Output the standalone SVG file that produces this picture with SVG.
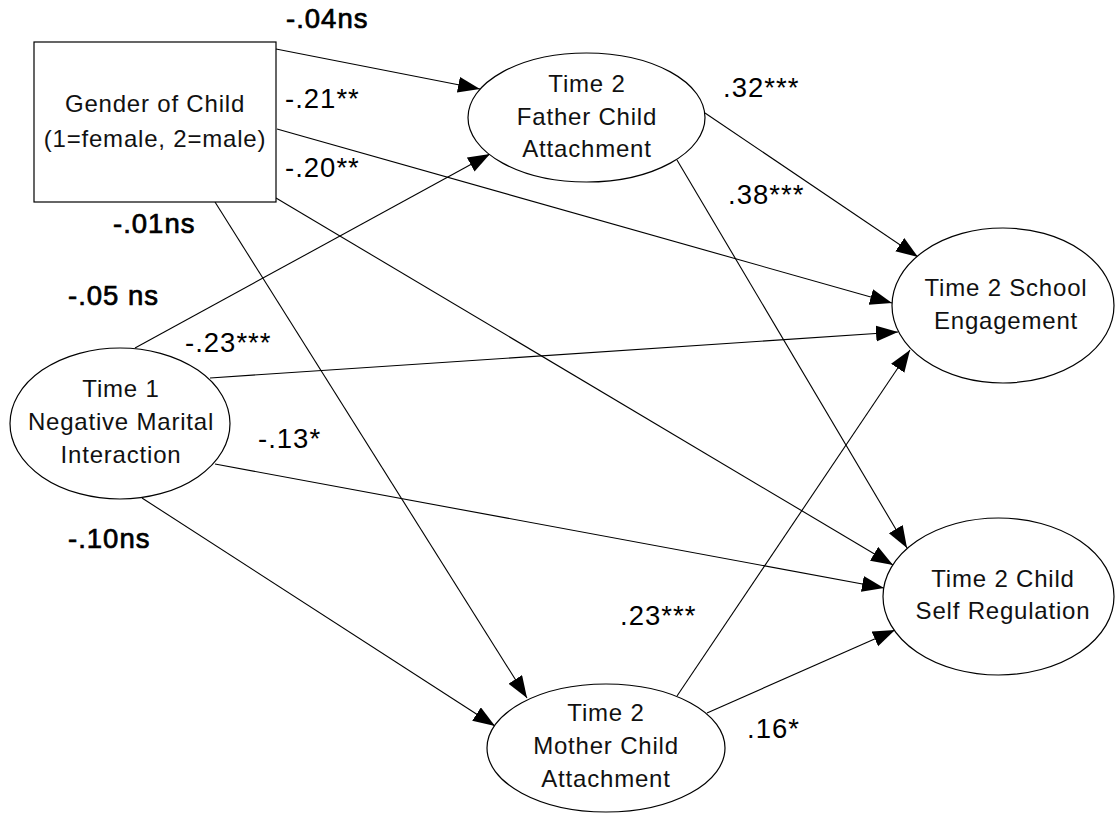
<svg xmlns="http://www.w3.org/2000/svg" width="1115" height="813" viewBox="0 0 1115 813">
  <defs>
    <marker id="arrow" markerUnits="userSpaceOnUse" markerWidth="24" markerHeight="18" refX="22" refY="8" orient="auto">
      <path d="M0,0 L22,8 L0,16 z" fill="#000"/>
    </marker>
    <style>
      .shape { fill: #fff; stroke: #000; stroke-width: 1.2; }
      .node-text { font-family: "Liberation Sans", Arial, sans-serif; font-size: 24px; letter-spacing: 0.8px; fill: #111; text-anchor: middle; }
      .edge { stroke: #000; stroke-width: 1.1; fill: none; marker-end: url(#arrow); }
      .coef { font-family: "Liberation Sans", Arial, sans-serif; font-size: 27.5px; letter-spacing: 1px; fill: #000; }
      .coef-ns { stroke: #000; stroke-width: 0.7px; }
    </style>
  </defs>
  <rect width="1115" height="813" fill="#fff"/>

  <!-- paths between variables -->
  <g id="connectors">
    <line class="edge" x1="276" y1="49" x2="480" y2="89"/>
    <line class="edge" x1="277" y1="129" x2="892" y2="303"/>
    <line class="edge" x1="276" y1="198" x2="893" y2="565"/>
    <line class="edge" x1="215" y1="202" x2="527" y2="698"/>
    <line class="edge" x1="135" y1="348" x2="490" y2="154"/>
    <line class="edge" x1="210" y1="378" x2="898" y2="332"/>
    <line class="edge" x1="215" y1="464" x2="884" y2="588"/>
    <line class="edge" x1="142" y1="498" x2="495" y2="726"/>
    <line class="edge" x1="705" y1="113" x2="918" y2="257"/>
    <line class="edge" x1="677" y1="160" x2="907" y2="548"/>
    <line class="edge" x1="677" y1="696" x2="910" y2="350"/>
    <line class="edge" x1="707" y1="713" x2="895" y2="630"/>
  </g>

  <g id="gender">
    <rect class="shape" x="34" y="42" width="242" height="160"/>
    <text class="node-text" x="155" y="112">Gender of Child</text>
    <text class="node-text" x="155" y="147">(1=female, 2=male)</text>
  </g>

  <g id="father">
    <ellipse class="shape" cx="586.5" cy="117.5" rx="118.5" ry="64.5"/>
    <text class="node-text" x="587" y="92">Time 2</text>
    <text class="node-text" x="587" y="125">Father Child</text>
    <text class="node-text" x="587" y="157">Attachment</text>
  </g>

  <g id="marital">
    <ellipse class="shape" cx="120" cy="423.5" rx="110" ry="75.5"/>
    <text class="node-text" x="121" y="397">Time 1</text>
    <text class="node-text" x="121" y="430">Negative Marital</text>
    <text class="node-text" x="121" y="463">Interaction</text>
  </g>

  <g id="mother">
    <ellipse class="shape" cx="606" cy="748" rx="119" ry="64"/>
    <text class="node-text" x="606" y="721">Time 2</text>
    <text class="node-text" x="606" y="754">Mother Child</text>
    <text class="node-text" x="606" y="787">Attachment</text>
  </g>

  <g id="school">
    <ellipse class="shape" cx="1003" cy="305.5" rx="111" ry="77.5"/>
    <text class="node-text" x="1006" y="296">Time 2 School</text>
    <text class="node-text" x="1006" y="329">Engagement</text>
  </g>

  <g id="selfreg">
    <ellipse class="shape" cx="998.5" cy="596.5" rx="115.5" ry="78.5"/>
    <text class="node-text" x="1003" y="587">Time 2 Child</text>
    <text class="node-text" x="1003" y="619">Self Regulation</text>
  </g>

  <!-- path coefficients -->
  <g id="coefficients">
    <text class="coef coef-ns" x="286" y="28">-.04ns</text>
    <text class="coef" x="285" y="108">-.21**</text>
    <text class="coef" x="285" y="177">-.20**</text>
    <text class="coef coef-ns" x="113" y="233">-.01ns</text>
    <text class="coef coef-ns" x="68" y="305">-.05 ns</text>
    <text class="coef" x="185" y="352">-.23***</text>
    <text class="coef" x="258" y="448">-.13*</text>
    <text class="coef coef-ns" x="68" y="548">-.10ns</text>
    <text class="coef" x="723" y="97">.32***</text>
    <text class="coef" x="728" y="204">.38***</text>
    <text class="coef" x="620" y="625">.23***</text>
    <text class="coef" x="747" y="738">.16*</text>
  </g>
</svg>
